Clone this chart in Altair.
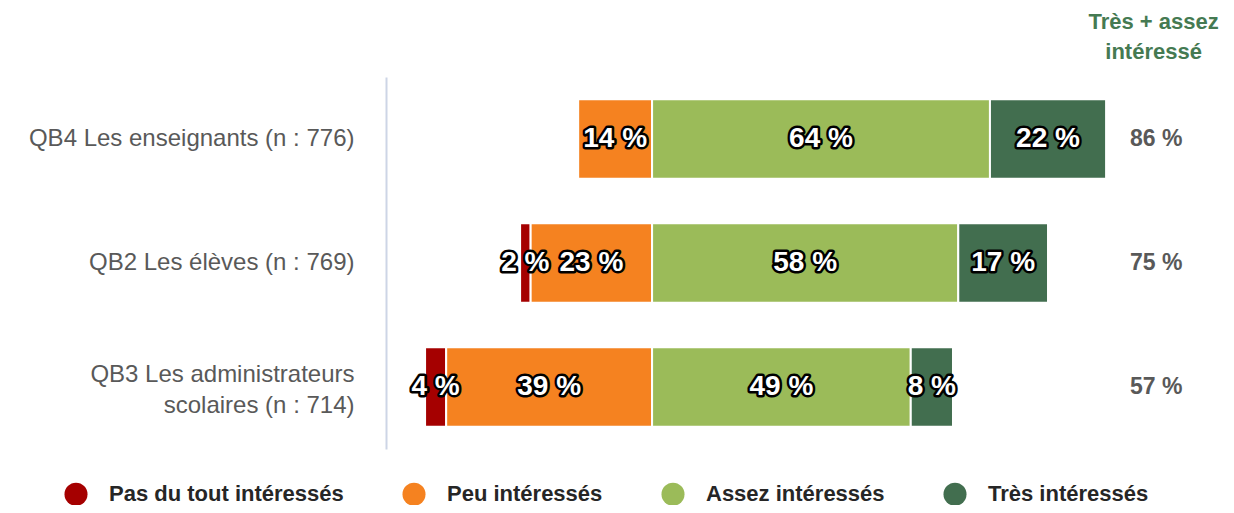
import altair as alt
import pandas as pd

groups = [
    "QB4 Les enseignants (n : 776)",
    "QB2 Les élèves (n : 769)",
    "QB3 Les administrateurs|scolaires (n : 714)",
]
categories = ["Pas du tout intéressés", "Peu intéressés", "Assez intéressés", "Très intéressés"]
pas = [0, 2, 4]
peu = [14, 23, 39]
assez = [64, 58, 49]
tres = [22, 17, 8]
totals = [86, 75, 57]
colors = ["#A50000", "#F58220", "#9BBB59", "#426E4F"]
header = ["Très + assez", "intéressé"]

rows = []
for i, g in enumerate(groups):
    segs = [
        (categories[0], -(peu[i] + pas[i]), -peu[i], pas[i]),
        (categories[1], -peu[i], 0, peu[i]),
        (categories[2], 0, assez[i], assez[i]),
        (categories[3], assez[i], assez[i] + tres[i], tres[i]),
    ]
    for cat, a, b, v in segs:
        if v > 0:
            rows.append({"group": g, "cat": cat, "start": a, "end": b,
                         "mid": (a + b) / 2, "label": f"{v} %", "order": categories.index(cat)})
df = pd.DataFrame(rows)
tot_df = pd.DataFrame({"group": groups, "total": [f"{t} %" for t in totals]})

xscale = alt.Scale(domain=[-50.4, 100], nice=False, zero=False)
yscale = alt.Scale(domain=groups, paddingInner=0.36, paddingOuter=0.18)
FONT = "Liberation Sans, Arial, sans-serif"

base = alt.Chart(df)

bars = base.mark_bar(stroke="white", strokeWidth=2).encode(
    x=alt.X("start:Q", scale=xscale, axis=None),
    x2="end:Q",
    y=alt.Y("group:N", scale=yscale, sort=groups, title=None,
            axis=alt.Axis(labelExpr="split(datum.label, '|')", labelFontSize=24,
                          labelColor="#595959", labelFont=FONT,
                          labelBaseline={"condition": {"test": "indexof(datum.value, '|') >= 0",
                                                       "value": "bottom"},
                                         "value": "middle"},
                          labelPadding=32, ticks=False, domainColor="#CDD5E6",
                          domainWidth=2, labelLineHeight=31, labelLimit=450)),
    color=alt.Color("cat:N", scale=alt.Scale(domain=categories, range=colors),
                    legend=alt.Legend(title=None, orient="none", direction="horizontal",
                                      legendX=-322, legendY=405, symbolType="circle",
                                      symbolSize=530, symbolStrokeWidth=0,
                                      labelFontSize=22, labelFont=FONT,
                                      labelFontWeight="bold", labelColor="#262626",
                                      columnPadding=58, labelOffset=21, labelLimit=400)),
    order="order:Q",
)

outline = base.mark_text(font=FONT, fontSize=28, fontWeight="bold",
                         fill="black", stroke="black", strokeWidth=5, strokeJoin="round").encode(
    x=alt.X("mid:Q", scale=xscale), y=alt.Y("group:N", scale=yscale, sort=groups), text="label:N")
labels = base.mark_text(font=FONT, fontSize=28, fontWeight="bold",
                        fill="white").encode(
    x=alt.X("mid:Q", scale=xscale), y=alt.Y("group:N", scale=yscale, sort=groups), text="label:N")

tot = alt.Chart(tot_df).mark_text(font=FONT, fontSize=23, fontWeight="bold",
                                  color="#595959").encode(
    x=alt.datum(95.5, scale=xscale), y=alt.Y("group:N", scale=yscale, sort=groups), text="total:N")

head = alt.Chart(pd.DataFrame({"h": [0]})).mark_text(
    font=FONT, fontSize=22, fontWeight="bold", color="#457A52",
    lineHeight=30, baseline="middle").encode(
    x=alt.datum(95, scale=xscale), y=alt.value(-55), text=alt.value(header))

chart = alt.layer(bars, outline, labels, tot, head).properties(
    width=794, height=372,
    autosize=alt.AutoSizeParams(type="none"),
    padding={"left": 378, "top": 69, "right": 46, "bottom": 56},
).configure_view(stroke=None).configure_axisY(grid=False)

chart.save("out.html", embed_options={"renderer": "svg", "actions": False})
